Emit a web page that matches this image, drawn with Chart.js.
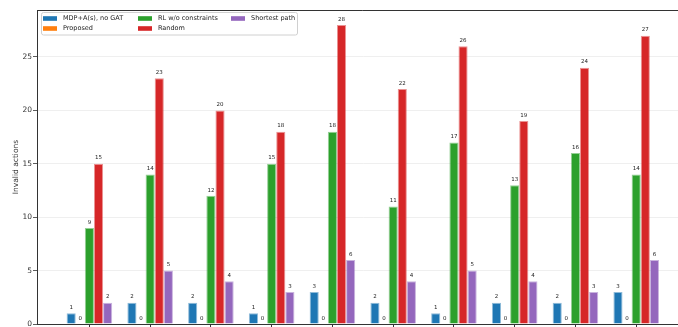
<!DOCTYPE html>
<html>
<head>
<meta charset="utf-8">
<script src="https://cdn.jsdelivr.net/npm/chart.js@4"></script>
<style>
html, body { margin: 0; padding: 0; overflow: hidden; background: #fff; }
#wrap { width: 690px; height: 344px; }
</style>
</head>
<body>
<div id="wrap"><canvas id="invalidChart"></canvas></div>
<script>
// 1. DATA
const groups = [0, 1, 2, 3, 4, 5, 6, 7, 8, 9];
const seriesNames = ['MDP+A(s), no GAT', 'Proposed', 'RL w/o constraints', 'Random', 'Shortest path'];
const seriesColors = ['#1f77b4', '#ff7f0e', '#2ca02c', '#d62728', '#9467bd'];
const mdpNoGat        = [1, 2, 2, 1, 3, 2, 1, 2, 2, 3];
const proposed        = [0, 0, 0, 0, 0, 0, 0, 0, 0, 0];
const rlNoConstraints = [9, 14, 12, 15, 18, 11, 17, 13, 16, 14];
const randomPolicy    = [15, 23, 20, 18, 28, 22, 26, 19, 24, 27];
const shortestPath    = [2, 5, 4, 3, 6, 4, 5, 4, 3, 6];
const yTicks = [0, 5, 10, 15, 20, 25];

const seriesValues = [mdpNoGat, proposed, rlNoConstraints, randomPolicy, shortestPath];
const FONT = 'DejaVu Sans';
Chart.defaults.font.family = FONT;

// 2. PLUGINS: value labels, frame, matplotlib-style legend
const valueLabels = {
    id: 'valueLabels',
    afterDatasetsDraw(chart) {
        const ctx = chart.ctx;
        ctx.save();
        ctx.font = `5.5px "${FONT}"`;
        ctx.fillStyle = '#222';
        ctx.textAlign = 'center';
        ctx.textBaseline = 'bottom';
        chart.data.datasets.forEach((ds, di) => {
            chart.getDatasetMeta(di).data.forEach((bar, i) => {
                ctx.fillText(String(ds.data[i].y), bar.x, bar.y - 3);
            });
        });
        ctx.restore();
    }
};

const frame = {
    id: 'frame',
    afterDraw(chart) {
        const a = chart.chartArea, ctx = chart.ctx;
        ctx.save();
        ctx.strokeStyle = '#333';
        ctx.lineWidth = 1;
        ctx.beginPath();
        ctx.moveTo(a.left, a.top + 0.5);
        ctx.lineTo(a.right, a.top + 0.5);
        ctx.lineTo(a.right, a.bottom);
        ctx.stroke();
        ctx.restore();
    }
};

const legendBox = {
    id: 'legendBox',
    afterDraw(chart) {
        const ctx = chart.ctx;
        const colX = [43, 138, 231];
        const rowY = [18.5, 28.5];
        ctx.save();
        ctx.fillStyle = 'rgba(255,255,255,0.85)';
        ctx.strokeStyle = '#d0d0d0';
        ctx.lineWidth = 1;
        ctx.beginPath();
        ctx.roundRect(41.5, 12.5, 256, 22.5, 2);
        ctx.fill();
        ctx.stroke();
        ctx.font = `6.5px "${FONT}"`;
        ctx.textBaseline = 'middle';
        ctx.textAlign = 'left';
        seriesNames.forEach((name, i) => {
            const x = colX[Math.floor(i / 2)], y = rowY[i % 2];
            ctx.fillStyle = seriesColors[i];
            ctx.fillRect(x, y - 2.3, 14, 4.6);
            ctx.fillStyle = '#222';
            ctx.fillText(name, x + 20, y);
        });
        ctx.restore();
    }
};

// 3. CHART
const ctx = document.getElementById('invalidChart').getContext('2d');
const invalidChart = new Chart(ctx, {
    type: 'bar',
    data: {
        datasets: seriesNames.map((name, i) => ({
            label: name,
            data: groups.map((g, j) => ({ x: g, y: seriesValues[i][j] })),
            backgroundColor: seriesColors[i],
            borderColor: seriesColors[i] + '80',
            borderWidth: seriesValues[i].some(v => v > 0) ? 1 : 0,
            borderSkipped: 'bottom',
            categoryPercentage: 0.75,
            barPercentage: 1.0
        }))
    },
    options: {
        responsive: true,
        maintainAspectRatio: false,
        devicePixelRatio: 1,
        animation: false,
        layout: { padding: { top: 10, right: 1.4, bottom: 0, left: 0 } },
        plugins: { legend: { display: false }, tooltip: { enabled: false } },
        scales: {
            x: {
                type: 'linear',
                offset: false,
                min: -0.8625,
                max: 9.8625,
                afterBuildTicks: s => { s.ticks = groups.map(v => ({ value: v })); },
                grid: { offset: false, drawOnChartArea: false, drawTicks: true, tickLength: 4, tickColor: '#333' },
                border: { display: true, color: '#333', width: 1 },
                ticks: { display: false },
                afterFit: s => { s.height = 20; }
            },
            y: {
                min: 0,
                max: 29.4,
                afterBuildTicks: s => { s.ticks = yTicks.map(v => ({ value: v })); },
                grid: { color: '#ebebeb', lineWidth: 0.8, tickColor: '#333', tickLength: 4 },
                border: { display: true, color: '#333', width: 1 },
                ticks: { font: { size: 7.5 }, color: '#333', padding: 1 },
                title: { display: true, text: 'Invalid actions', font: { size: 7.5 }, color: '#333', padding: { top: 12, bottom: 0 } },
                afterFit: s => { s.width = 37; }
            }
        }
    },
    plugins: [valueLabels, frame, legendBox]
});
</script>
</body>
</html>
